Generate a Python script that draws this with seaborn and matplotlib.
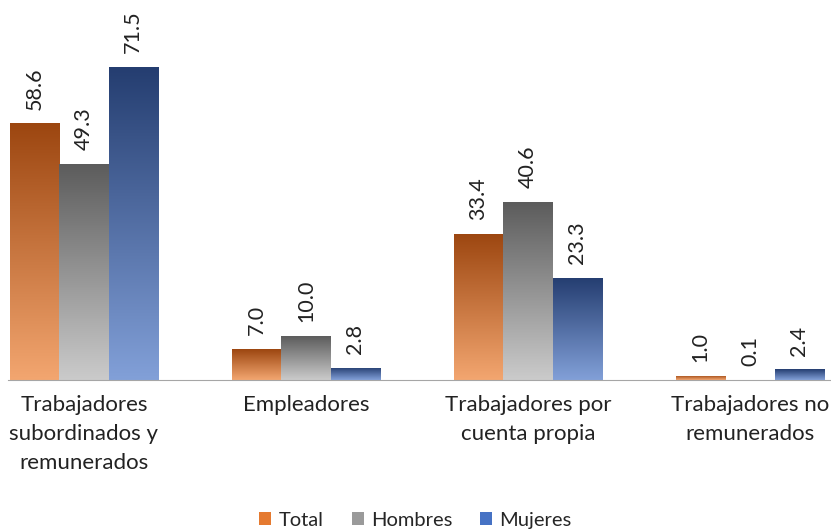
import numpy as np
import pandas as pd
import matplotlib
matplotlib.use("Agg")
import matplotlib.pyplot as plt
import seaborn as sns
from matplotlib.patches import Patch

categorias = ["Trabajadores\nsubordinados y\nremunerados", "Empleadores",
              "Trabajadores por\ncuenta propia", "Trabajadores no\nremunerados"]
series = ["Total", "Hombres", "Mujeres"]
total = [58.6, 7.0, 33.4, 1.0]
hombres = [49.3, 10.0, 40.6, 0.1]
mujeres = [71.5, 2.8, 23.3, 2.4]

# top color, bottom color for each series gradient
grad = {"Total": ("#9c4610", "#f3a670"),
        "Hombres": ("#5c5c5c", "#cbcbcb"),
        "Mujeres": ("#243d70", "#82a0d8")}
mid = {"Total": "#e57a30", "Hombres": "#9a9a9a", "Mujeres": "#4672c4"}

df = pd.DataFrame({
    "cat": categorias * 3,
    "serie": np.repeat(series, 4),
    "valor": total + hombres + mujeres,
})

sns.set_style("white")
plt.rcParams["font.family"] = ["Lato", "DejaVu Sans"]

fig = plt.figure(figsize=(8.31, 5.31), dpi=100)
ax = fig.add_axes([8 / 831, (531 - 380) / 531, 823 / 831, 360 / 531])

sns.barplot(data=df, x="cat", y="valor", hue="serie", order=categorias,
            hue_order=series, palette=mid, width=0.667, gap=0,
            legend=False, ax=ax, saturation=1)

ax.set_xlim(-0.342, 3.365)
ax.set_ylim(0, 360 / 4.378)

# gradient fill and value labels
for cont, s in zip(ax.containers, series):
    top, bot = matplotlib.colors.to_rgb(grad[s][0]), matplotlib.colors.to_rgb(grad[s][1])
    g = np.linspace(0, 1, 256)[:, None]
    img = np.array(top) * (1 - g[..., None]) + np.array(bot) * g[..., None]
    for bar, v in zip(cont.patches, cont.datavalues):
        x0, w, h = bar.get_x(), bar.get_width(), bar.get_height()
        bar.set_facecolor("none")
        bar.set_edgecolor("none")
        if h > 0:
            im = ax.imshow(img, extent=[x0, x0 + w, 0, max(h, 0.15)], aspect="auto",
                           origin="upper", zorder=2)
            im.set_clip_path(bar)
            bar.set_height(max(h, 0.15))
        ax.annotate(f"{v:.1f}", (x0 + w / 2, h), xytext=(0, 10), textcoords="offset points",
                    rotation=90, ha="center", va="bottom", fontsize=15.5, color="#222222")

sns.despine(ax=ax, left=True, top=True, right=True)
ax.spines["bottom"].set_color("#a6a6a6")
ax.set_yticks([])
ax.set_xlabel("")
ax.set_ylabel("")
ax.set_xticks([0, 1, 2, 3])
ax.set_xticklabels(categorias, fontsize=16, linespacing=1.55, color="#222222")
ax.tick_params(axis="x", length=0, pad=11)
ax.set_xticks([0.5, 1.5, 2.5], minor=True)
ax.tick_params(axis="x", which="minor", length=7, color="#a6a6a6", direction="out")

handles = [Patch(facecolor=mid[s], edgecolor="none") for s in series]
fig.legend(handles, series, loc="lower center", ncol=3, frameon=False,
           bbox_to_anchor=(0.5, -0.03), fontsize=14.5, handlelength=0.6,
           handleheight=0.6, handletextpad=0.35, columnspacing=1.4)

fig.savefig("out.png", dpi=100)
